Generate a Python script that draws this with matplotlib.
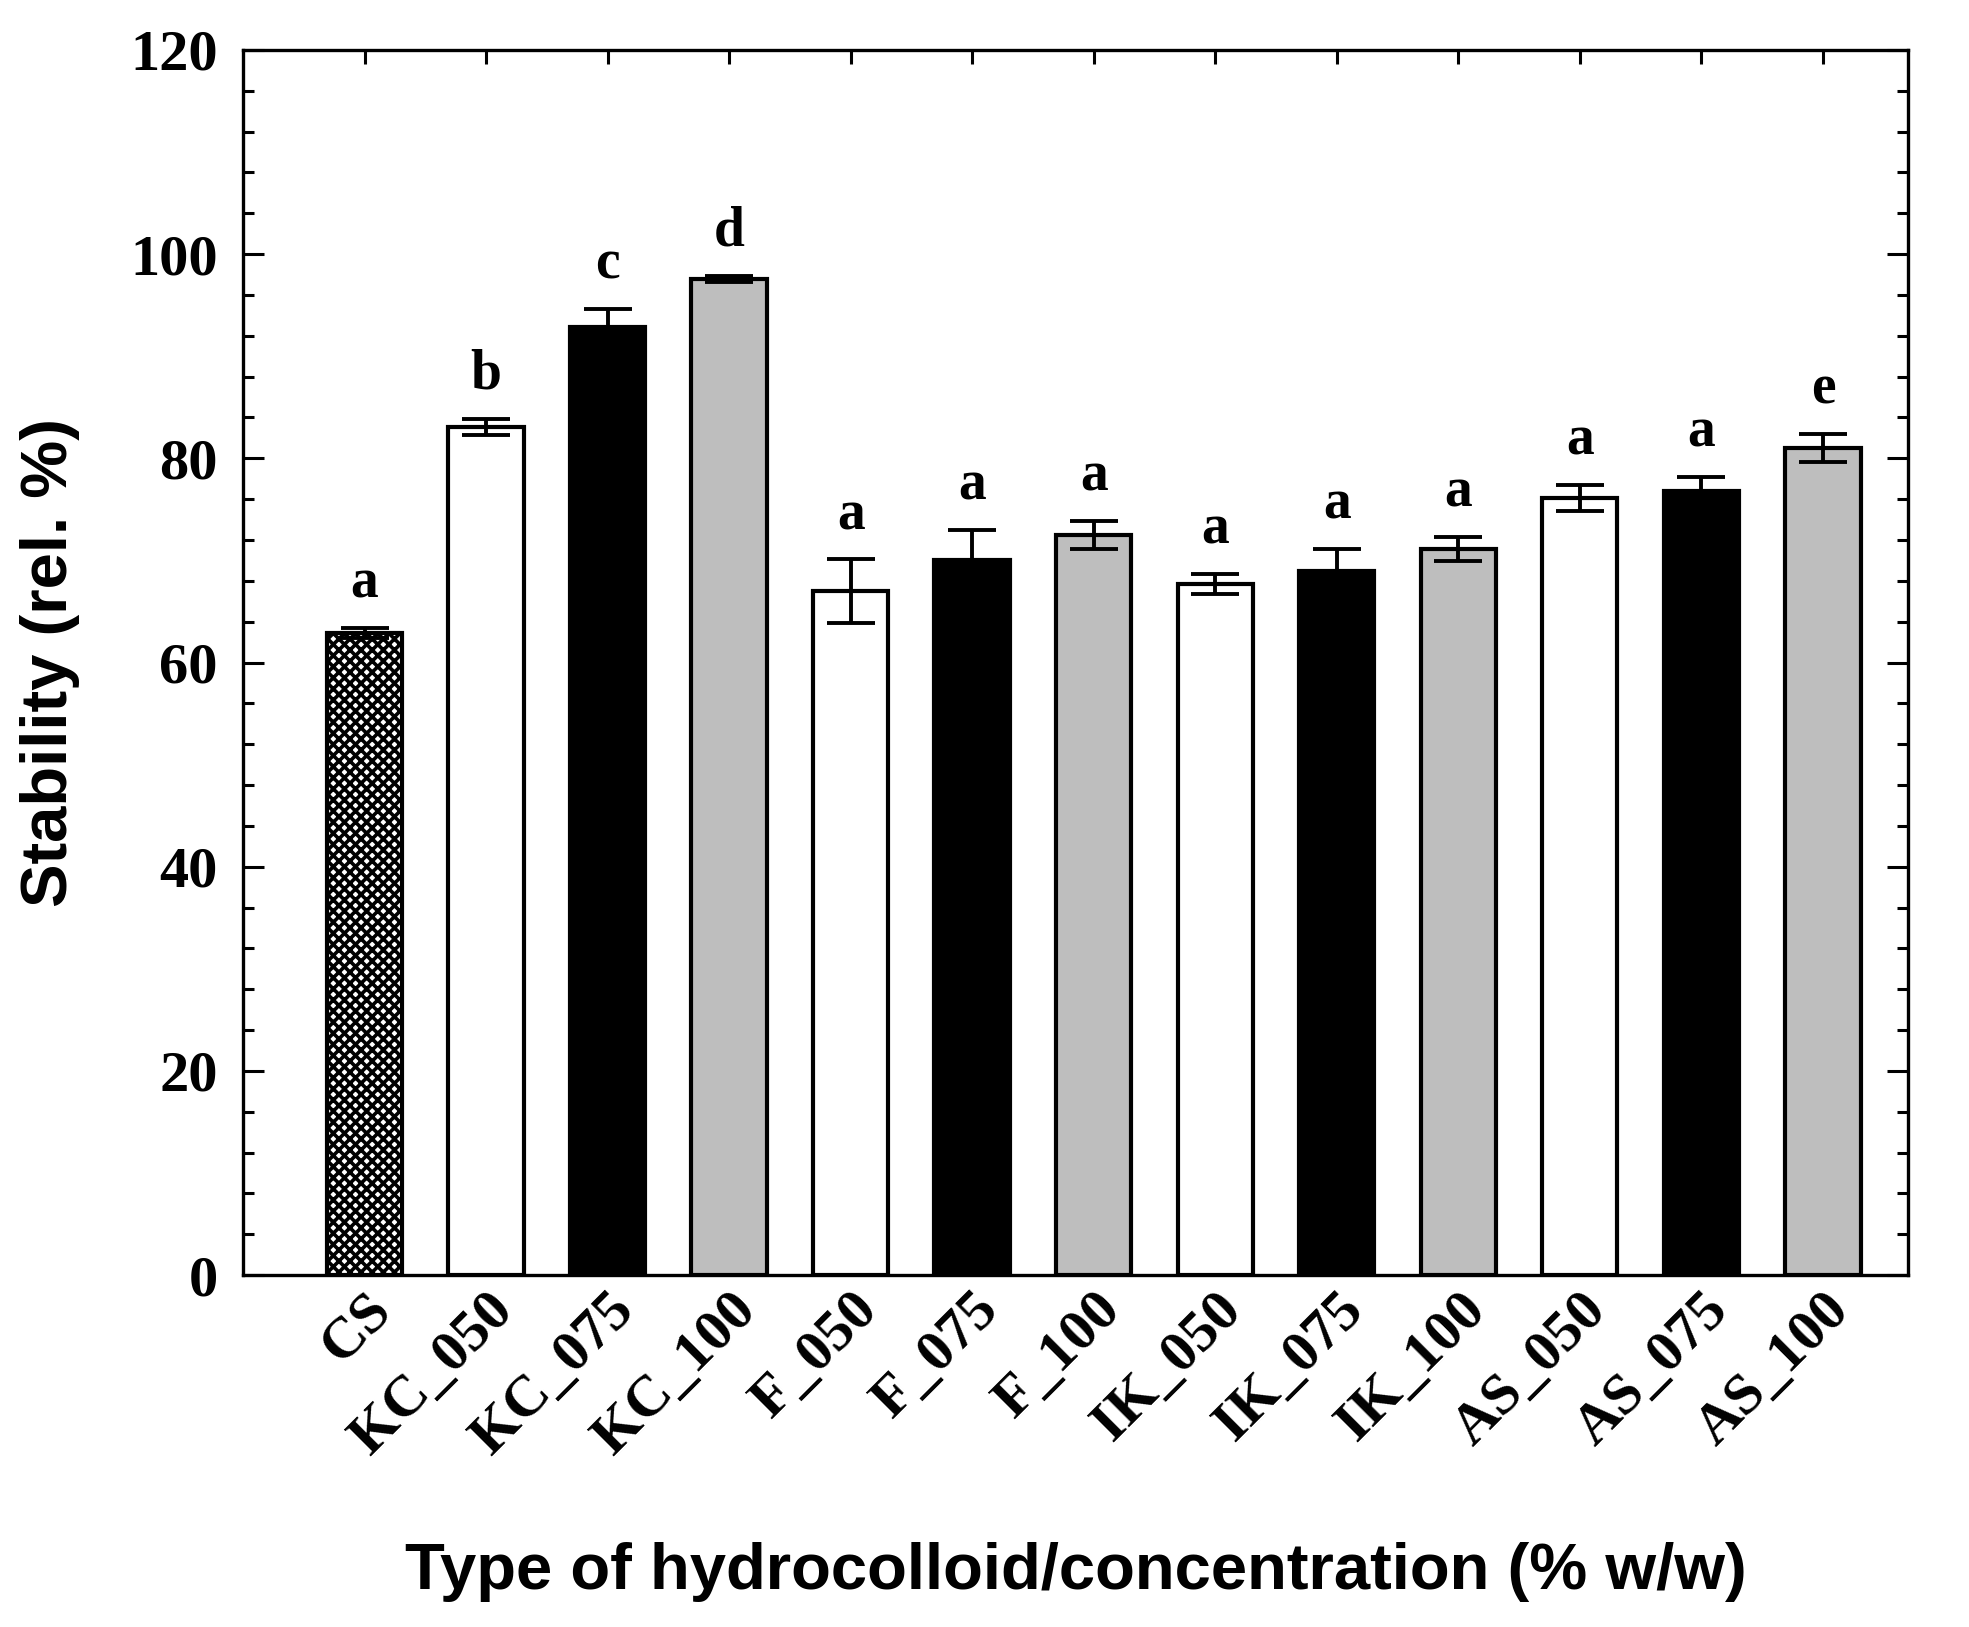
import matplotlib
matplotlib.use('Agg')
import matplotlib.pyplot as plt
from matplotlib.ticker import MultipleLocator

# data
categories = ['CS', 'KC_050', 'KC_075', 'KC_100', 'F_050', 'F_075', 'F_100',
              'IK_050', 'IK_075', 'IK_100', 'AS_050', 'AS_075', 'AS_100']
stability = [62.9, 83.1, 92.9, 97.6, 67.0, 70.0, 72.5, 67.7, 69.0, 71.1, 76.1, 76.8, 81.0]
errors = [0.5, 0.8, 1.7, 0.3, 3.1, 3.0, 1.4, 1.0, 2.1, 1.2, 1.3, 1.4, 1.4]
letters = ['a', 'b', 'c', 'd', 'a', 'a', 'a', 'a', 'a', 'a', 'a', 'a', 'e']
fills = ['white', 'white', 'black', '#bebebe', 'white', 'black', '#bebebe',
         'white', 'black', '#bebebe', 'white', 'black', '#bebebe']

plt.rcParams['hatch.linewidth'] = 2.6

fig = plt.figure(figsize=(19.69, 16.27), dpi=100)
ax = fig.add_axes([0.1234, 0.2163, 0.8456, 0.753])

x = list(range(len(categories)))
bars = ax.bar(x, stability, width=0.62, color=fills, edgecolor='black', linewidth=3, zorder=2)
bars[0].set_hatch('xxx')

ax.errorbar(x, stability, yerr=errors, fmt='none', ecolor='black', elinewidth=2.8,
            capsize=17, capthick=2.8, zorder=3)

for xi, v, e, lab in zip(x, stability, errors, letters):
    ax.text(xi, v + e + 1.8, lab, ha='center', va='bottom', fontsize=40,
            fontweight='bold', family='Liberation Serif')

ax.set_xlim(-1.0, 12.7)
ax.set_ylim(0, 120)
ax.yaxis.set_major_locator(MultipleLocator(20))
ax.yaxis.set_minor_locator(MultipleLocator(4))
ax.set_xticks(x)
ax.set_xticklabels(categories, rotation=45, ha='right', rotation_mode='anchor')

ax.tick_params(axis='y', which='both', direction='in', left=True, right=True)
ax.tick_params(axis='y', which='major', length=15, width=2.2, pad=18)
ax.tick_params(axis='y', which='minor', length=8, width=2.2)
ax.tick_params(axis='x', which='major', direction='in', top=True, bottom=False,
               length=10, width=2.2, pad=6)

for lbl in ax.get_yticklabels() + ax.get_xticklabels():
    lbl.set_fontfamily('Liberation Serif')
    lbl.set_fontweight('bold')
    lbl.set_fontsize(42)

for sp in ax.spines.values():
    sp.set_linewidth(2.4)

ax.set_ylabel('Stability (rel. %)', fontsize=47, fontweight='bold',
              family='Liberation Sans', labelpad=36)
ax.set_xlabel('Type of hydrocolloid/concentration (% w/w)', fontsize=47,
              fontweight='bold', family='Liberation Sans', labelpad=56)

fig.savefig('out.png', dpi=100)
